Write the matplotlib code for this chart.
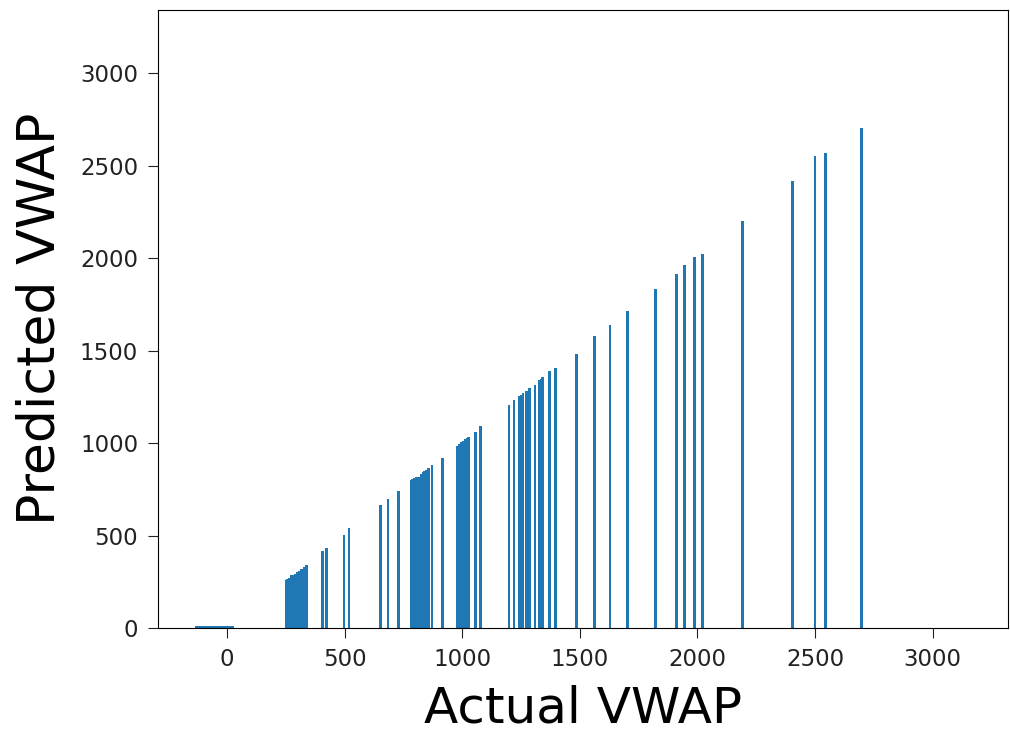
import numpy as np
import matplotlib
matplotlib.use("Agg")
import matplotlib.pyplot as plt

# actual VWAP (x) vs predicted VWAP (bar height)
actual = [-130, -122, -114, -106, -98, -90, -82, -74, -66, -58, -50, -42,
          -34, -26, -18, -10, -2, 6, 14, 22,
          250, 258, 266, 274, 282, 290, 298, 306, 314, 322, 330, 338,
          406, 423, 497, 518,
          652, 684, 730, 782, 790, 798, 806, 814, 825, 833, 841, 849, 857,
          871, 916,
          980, 988, 996, 1004, 1012, 1020, 1028, 1057, 1079,
          1199, 1220, 1242, 1250, 1258, 1273, 1287, 1309, 1330, 1336, 1342,
          1372, 1398, 1486, 1561, 1628, 1703, 1823, 1911, 1944, 1986, 2020,
          2192, 2403, 2500, 2546, 2699]
predicted = [12, 12, 13, 12, 12, 13, 12, 12, 13, 12, 12, 13,
             12, 12, 13, 12, 12, 13, 12, 12,
             262, 264, 270, 285, 288, 295, 305, 308, 318, 322, 332, 340,
             416, 433, 505, 540,
             668, 696, 743, 800, 808, 814, 816, 818, 835, 842, 850, 858, 865,
             882, 923,
             985, 998, 1008, 1015, 1022, 1028, 1035, 1062, 1092,
             1207, 1235, 1255, 1262, 1270, 1285, 1297, 1315, 1340, 1350, 1357,
             1390, 1408, 1484, 1578, 1638, 1716, 1837, 1918, 1964, 2009, 2023,
             2200, 2418, 2556, 2572, 2707]

fig = plt.figure(figsize=(10.1, 7.33), dpi=100)
ax = fig.add_axes([0.156, 0.143, 0.842, 0.843])
ax.bar(actual, predicted, width=12, color='#1f77b4', linewidth=0)
ax.set_xlim(-296, 3321)
ax.set_ylim(0, 3342)
ax.set_xticks([0, 500, 1000, 1500, 2000, 2500, 3000])
ax.set_yticks([0, 500, 1000, 1500, 2000, 2500, 3000])
ax.tick_params(labelsize=16.5, length=7, pad=7, colors='#222222')
ax.set_xlabel('Actual VWAP', fontsize=36, labelpad=10)
ax.set_ylabel('Predicted VWAP', fontsize=37.5, labelpad=10)
fig.savefig('out.png', dpi=100)
